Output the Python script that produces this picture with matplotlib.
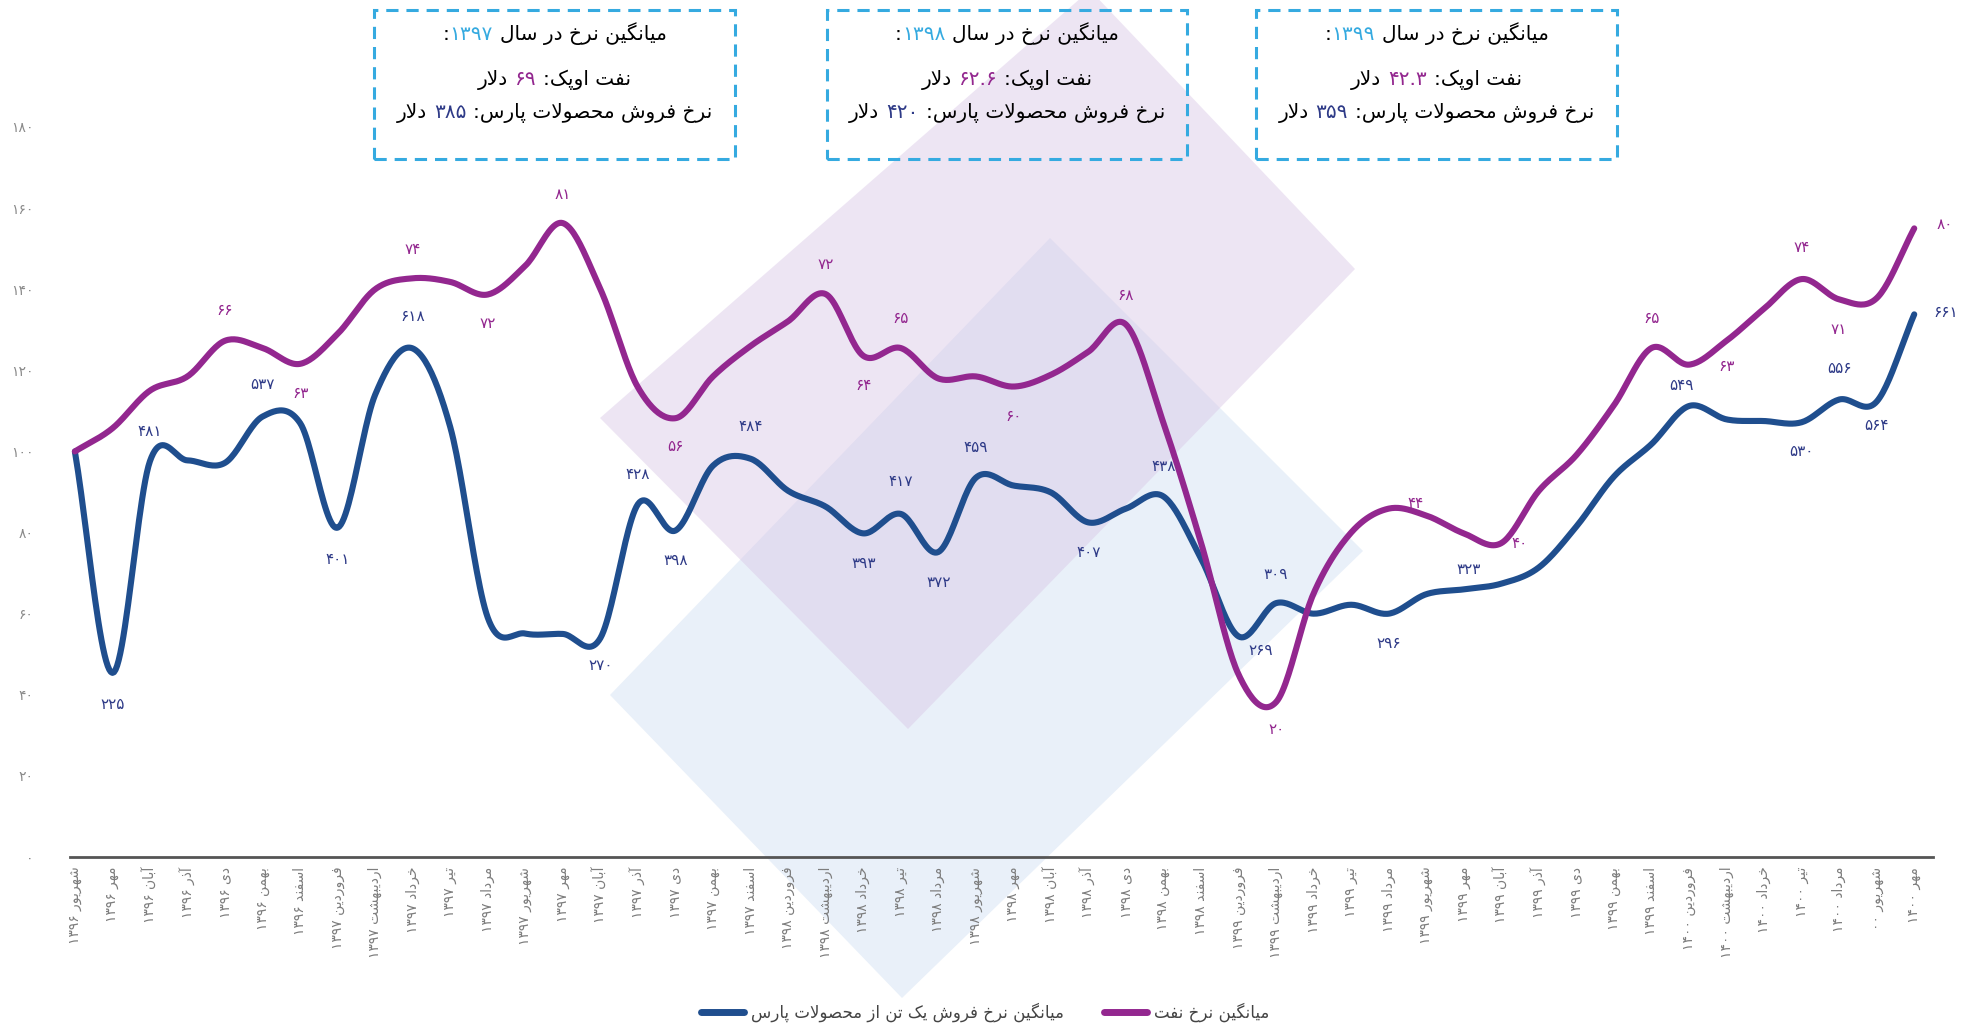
import numpy as np
import matplotlib
matplotlib.use('Agg')
import matplotlib.pyplot as plt
from matplotlib.patches import Polygon, Rectangle
from matplotlib.lines import Line2D
from matplotlib.offsetbox import TextArea, HPacker, DrawingArea, AnnotationBbox

# ---- data -------------------------------------------------------------
months = ['شهریور ۱۳۹۶', 'مهر ۱۳۹۶', 'آبان ۱۳۹۶', 'آذر ۱۳۹۶', 'دی ۱۳۹۶', 'بهمن ۱۳۹۶', 'اسفند ۱۳۹۶',
          'فروردین ۱۳۹۷', 'اردیبهشت ۱۳۹۷', 'خرداد ۱۳۹۷', 'تیر ۱۳۹۷', 'مرداد ۱۳۹۷', 'شهریور ۱۳۹۷',
          'مهر ۱۳۹۷', 'آبان ۱۳۹۷', 'آذر ۱۳۹۷', 'دی ۱۳۹۷', 'بهمن ۱۳۹۷', 'اسفند ۱۳۹۷',
          'فروردین ۱۳۹۸', 'اردیبهشت ۱۳۹۸', 'خرداد ۱۳۹۸', 'تیر ۱۳۹۸', 'مرداد ۱۳۹۸', 'شهریور ۱۳۹۸',
          'مهر ۱۳۹۸', 'آبان ۱۳۹۸', 'آذر ۱۳۹۸', 'دی ۱۳۹۸', 'بهمن ۱۳۹۸', 'اسفند ۱۳۹۸',
          'فروردین ۱۳۹۹', 'اردیبهشت ۱۳۹۹', 'خرداد ۱۳۹۹', 'تیر ۱۳۹۹', 'مرداد ۱۳۹۹', 'شهریور ۱۳۹۹',
          'مهر ۱۳۹۹', 'آبان ۱۳۹۹', 'آذر ۱۳۹۹', 'دی ۱۳۹۹', 'بهمن ۱۳۹۹', 'اسفند ۱۳۹۹',
          'فروردین ۱۴۰۰', 'اردیبهشت ۱۴۰۰', 'خرداد ۱۴۰۰', 'تیر ۱۴۰۰', 'مرداد ۱۴۰۰', 'شهریور ۰۰',
          'مهر ۱۴۰۰']

# index (start month = 100)
pars_index = [100, 45.4, 97.6, 97.8, 97.2, 108.6, 107, 81.2, 114, 125.4,
              106, 59, 55.1, 55, 54, 87, 80.5, 96.5, 98.2, 90.3,
              86.4, 79.8, 84.6, 75.2, 93.5, 91.6, 89.9, 82.5, 85.9, 88.9,
              73.6, 54.4, 62.6, 60, 62.2, 60, 64.8, 66, 67.4, 71.4,
              81.5, 93.8, 101.8, 111.2, 107.9, 107.5, 107.2, 112.8, 112.3, 133.8]
oil_index = [100, 105.7, 115, 118.5, 127.3, 125.5, 121.6, 129, 140, 142.7,
             141.8, 138.7, 145.8, 156.3, 140, 115.8, 108.2, 118.5, 126, 132.1,
             138.8, 123.6, 125.5, 118, 118.5, 116, 118.9, 124.6, 131.3, 107,
             77.5, 45, 38.2, 65, 80, 85.9, 84.2, 79.8, 77.4, 90.3,
             99.1, 111.4, 125.5, 121.4, 127.3, 135.2, 142.5, 137.5, 137.8, 155]

# labelled prices
pars_lbl_idx = [1, 2, 5, 7, 9, 14, 15, 16, 18, 21, 22, 23, 24, 27, 29, 31, 32, 35, 37, 43, 46, 47, 48, 49]
pars_lbl_val = [225, 481, 537, 401, 618, 270, 428, 398, 484, 393, 417, 372, 459, 407, 438, 269, 309, 296, 323,
                549, 530, 556, 564, 661]
oil_lbl_idx = [4, 6, 9, 11, 13, 16, 20, 21, 22, 25, 28, 32, 35, 38, 42, 43, 46, 47, 49]
oil_lbl_val = [66, 63, 74, 72, 81, 56, 72, 64, 65, 60, 68, 20, 44, 40, 65, 63, 74, 71, 80]

# yearly averages shown in the boxes
box_years = [1397, 1398, 1399]
box_oil = ['69', '62.6', '42.3']
box_pars = [385, 420, 359]

# label offsets in pixels (layout only)
pars_lbl_off = [(0, -32), (0, 30), (0, 32), (0, -32), (0, 32), (0, -28), (0, 30), (0, -30), (0, 32), (0, -30),
                (0, 32), (0, -30), (0, 30), (0, -30), (0, 30), (22, -14), (0, 29), (0, -30), (5, 20),
                (-8, 21), (0, -29), (0, 31), (0, -24), (32, 2)]
oil_lbl_off = [(0, 30), (0, -30), (0, 29), (0, -29), (0, 29), (0, -28), (0, 30), (0, -30), (0, 30), (0, -30),
               (0, 29), (0, -27), (27, 5), (18, 0), (0, 30), (38, -2), (0, 32), (0, -30), (30, 4)]

BLUE = '#1f4e8e'
PURPLE = '#93278f'
BLUE_TXT = '#2e3a87'
LIGHTBLUE = '#35aae0'
GRAY = '#8a8a8a'
FONT = 'DejaVu Sans'

# ---- minimal persian shaping / bidi -----------------------------------
DUAL = {'ب': 0xFE8F, 'ت': 0xFE95, 'ث': 0xFE99, 'ج': 0xFE9D, 'ح': 0xFEA1, 'خ': 0xFEA5, 'س': 0xFEB1,
        'ش': 0xFEB5, 'ص': 0xFEB9, 'ض': 0xFEBD, 'ط': 0xFEC1, 'ظ': 0xFEC5, 'ع': 0xFEC9, 'غ': 0xFECD,
        'ف': 0xFED1, 'ق': 0xFED5, 'ل': 0xFEDD, 'م': 0xFEE1, 'ن': 0xFEE5, 'ه': 0xFEE9, 'پ': 0xFB56,
        'چ': 0xFB7A, 'ک': 0xFB8E, 'گ': 0xFB92, 'ی': 0xFBFC}
RIGHT = {'ا': 0xFE8D, 'آ': 0xFE81, 'د': 0xFEA9, 'ذ': 0xFEAB, 'ر': 0xFEAD, 'ز': 0xFEAF, 'و': 0xFEED,
         'ژ': 0xFB8A, 'لا': 0xFEFB}
DIGITS = '۰۱۲۳۴۵۶۷۸۹'


def fa(n):
    return str(n).translate(str.maketrans('0123456789', DIGITS))


def shape_word(w):
    units = []
    i = 0
    while i < len(w):
        if w[i] == 'ل' and i + 1 < len(w) and w[i + 1] == 'ا':
            units.append('لا')
            i += 2
        else:
            units.append(w[i])
            i += 1
    out = []
    for k, u in enumerate(units):
        if u in DUAL:
            b, dual = DUAL[u], True
        elif u in RIGHT:
            b, dual = RIGHT[u], False
        else:
            out.append(u)
            continue
        prev = k > 0 and units[k - 1] in DUAL
        nxt = dual and k + 1 < len(units) and (units[k + 1] in DUAL or units[k + 1] in RIGHT)
        if prev and nxt:
            c = b + 3
        elif prev:
            c = b + 1
        elif nxt:
            c = b + 2
        else:
            c = b
        out.append(chr(c))
    return ''.join(reversed(out))


def vis(s):
    groups = []
    for ch in s:
        if ch in DUAL or ch in RIGHT:
            kind = 'L'
        elif ch in DIGITS or (ch == '.' and groups and groups[-1][0] == 'D'):
            kind = 'D'
        else:
            kind = 'N'
        if groups and groups[-1][0] == kind and kind != 'N':
            groups[-1][1] += ch
        else:
            groups.append([kind, ch])
    parts = []
    for kind, txt in reversed(groups):
        parts.append(shape_word(txt) if kind == 'L' else txt)
    return ''.join(parts)


def smooth(y, n=24):
    p = np.asarray(y, float)
    pp = np.concatenate([[2 * p[0] - p[1]], p, [2 * p[-1] - p[-2]]])
    t = np.linspace(0, 1, n, endpoint=False)
    h00 = 2 * t**3 - 3 * t**2 + 1
    h10 = t**3 - 2 * t**2 + t
    h01 = -2 * t**3 + 3 * t**2
    h11 = t**3 - t**2
    xs, ys = [], []
    for k in range(len(p) - 1):
        m1 = (pp[k + 2] - pp[k]) / 2
        m2 = (pp[k + 3] - pp[k + 1]) / 2
        ys.append(h00 * p[k] + h10 * m1 + h01 * p[k + 1] + h11 * m2)
        xs.append(k + t)
    xs.append([len(p) - 1])
    ys.append([p[-1]])
    return np.concatenate(xs), np.concatenate(ys)


# ---- figure -----------------------------------------------------------
W, H = 1964, 1029
fig = plt.figure(figsize=(W / 100, H / 100), dpi=100)


def fx(px):
    return px / W


def fy(py):
    return 1 - py / H


# background shapes
blue_shape = [(1050, 238), (1363, 551), (902, 998), (610, 695)]
purple_shape = [(1090, -10), (1355, 269), (908, 729), (600, 418)]
fig.add_artist(Polygon([(fx(a), fy(b)) for a, b in blue_shape], closed=True, transform=fig.transFigure,
                       facecolor='#e9f0f9', edgecolor='none', zorder=-5))
fig.add_artist(Polygon([(fx(a), fy(b)) for a, b in purple_shape], closed=True, transform=fig.transFigure,
                       facecolor='#d9c6e6', alpha=0.45, edgecolor='none', zorder=-4))

ax = fig.add_axes([fx(70), fy(857), fx(1933) - fx(70), fy(127) - fy(857)])
ax.patch.set_alpha(0)
ax.set_xlim(-0.13, 49.5)
ax.set_ylim(0, 180)

x = np.arange(len(months))
sx, sy = smooth(pars_index)
ax.plot(sx, sy, color=BLUE, lw=4.4, solid_capstyle='round', clip_on=False, zorder=3)
sx, sy = smooth(oil_index)
ax.plot(sx, sy, color=PURPLE, lw=4.4, solid_capstyle='round', clip_on=False, zorder=3)

for i, v, off in zip(pars_lbl_idx, pars_lbl_val, pars_lbl_off):
    ax.annotate(fa(v), (x[i], pars_index[i]), xytext=off, textcoords='offset pixels', ha='center',
                va='center', fontsize=11, color=BLUE_TXT, family=FONT, zorder=4)
for i, v, off in zip(oil_lbl_idx, oil_lbl_val, oil_lbl_off):
    ax.annotate(fa(v), (x[i], oil_index[i]), xytext=off, textcoords='offset pixels', ha='center',
                va='center', fontsize=11, color=PURPLE, family=FONT, zorder=4)

for s in ['left', 'right', 'top']:
    ax.spines[s].set_visible(False)
ax.spines['bottom'].set_color('#555555')
ax.spines['bottom'].set_linewidth(2)

yt = np.arange(0, 181, 20)
ax.set_yticks(yt)
ax.set_yticklabels([fa(v) for v in yt], fontsize=10, color=GRAY, family=FONT)
ax.tick_params(axis='y', length=0, pad=26)
ax.set_xticks(x)
ax.set_xticklabels([vis(m) for m in months], rotation=90, fontsize=10, color='#7d7d7d', family=FONT)
ax.tick_params(axis='x', length=0, pad=7)

# legend
handles = [Line2D([], [], color=BLUE, lw=5, solid_capstyle='round'),
           Line2D([], [], color=PURPLE, lw=5, solid_capstyle='round')]
fig.legend(handles, [vis('میانگین نرخ فروش یک تن از محصولات پارس'), vis('میانگین نرخ نفت')],
           loc='center', bbox_to_anchor=(fx(985), fy(1012)), ncol=2, frameon=False,
           prop={'family': FONT, 'size': 12}, handlelength=2.6, handletextpad=0.4,
           columnspacing=2.4, labelcolor='#444444')

# yearly average boxes
box_x = [(374, 735), (827, 1187), (1256, 1617)]


def text_line(segs, cx, cy, size=14.5):
    kids = []
    for k, (txt, col, gap) in enumerate(segs):
        if gap:
            kids.append(DrawingArea(gap, 1))
        kids.append(TextArea(txt, textprops=dict(color=col, fontsize=size, family=FONT)))
    ab = AnnotationBbox(HPacker(children=kids, sep=0, align='baseline', pad=0), (fx(cx), fy(cy)),
                        xycoords='figure fraction', frameon=False, box_alignment=(0.5, 0.5), pad=0)
    fig.add_artist(ab)


for (x0, x1), yr, oil, pars in zip(box_x, box_years, box_oil, box_pars):
    fig.add_artist(Rectangle((fx(x0), fy(159)), fx(x1) - fx(x0), fy(10) - fy(159),
                             transform=fig.transFigure, fill=False, edgecolor=LIGHTBLUE, lw=2.2,
                             linestyle=(0, (4, 2.6))))
    cx = (x0 + x1) / 2
    text_line([(':', 'black', 0), (fa(yr), LIGHTBLUE, 0), (vis('میانگین نرخ در سال'), 'black', 5)], cx, 34)
    text_line([(vis('دلار'), 'black', 0), (fa(oil), PURPLE, 5), (vis('نفت اوپک:'), 'black', 5)], cx, 80)
    text_line([(vis('دلار'), 'black', 0), (fa(pars), BLUE_TXT, 5),
               (vis('نرخ فروش محصولات پارس:'), 'black', 5)], cx, 113)

fig.savefig('out.png', dpi=100)
